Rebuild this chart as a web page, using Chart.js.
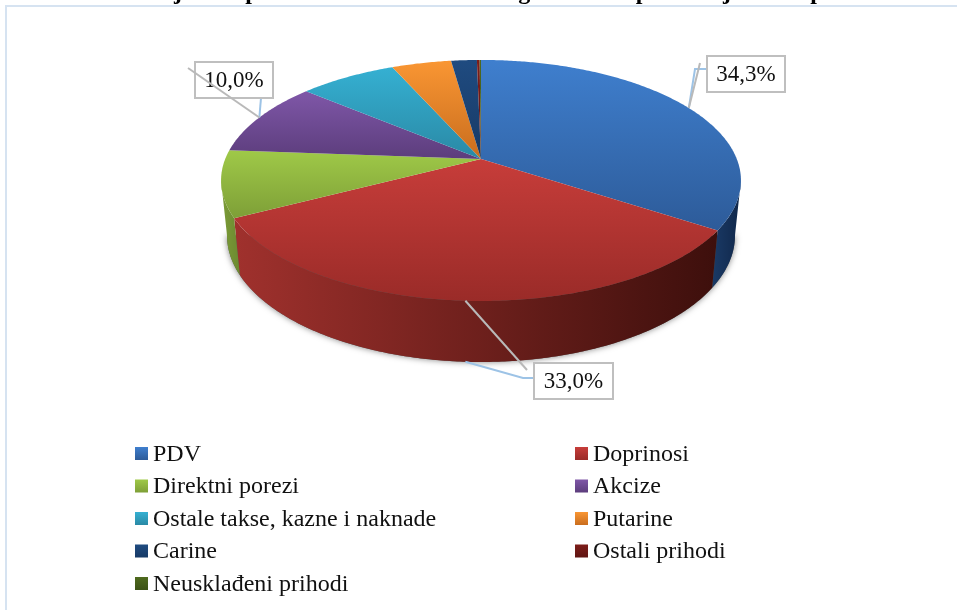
<!DOCTYPE html>
<html>
<head>
<meta charset="utf-8">
<title>Struktura javnih prihoda</title>
<script src="https://cdn.jsdelivr.net/npm/chart.js@4"></script>
<style>
  html, body { margin: 0; padding: 0; background: #fff; overflow: hidden; }
  canvas { display: block; }
</style>
</head>
<body>
<canvas id="chart" width="957" height="610"></canvas>
<script>
// the title is cut off by the page top, only its descenders show: wording is a guess
const chartTitle = 'Struktura javnih prihoda ostvarenih u toku godine kao prihoda jedinica prihoda';
const categories = ['PDV', 'Doprinosi', 'Direktni porezi', 'Akcize', 'Ostale takse, kazne i naknade', 'Putarine', 'Carine', 'Ostali prihodi', 'Neusklađeni prihodi'];
const shares = [34.3, 33.0, 8.9, 10.0, 7.2, 4.4, 1.9, 0.2, 0.1];
const labelledSlices = [0, 1, 3];

const topColors = ['#3f7fce', '#c73d3a', '#9fc948', '#7f57a8', '#35b0d2', '#f99633', '#1f4b80', '#7d1d1a', '#4f6a1e'];
const bottomColors = ['#2d5b99', '#9a2b28', '#7e9f37', '#5c3d7c', '#2a89a5', '#c96d1e', '#173a66', '#5f1512', '#3c5216'];
const wallLeft = ['#1a3a66', '#a0312d', '#7c9c38', '#5c3d7c', '#2a89a5', '#c96d1e', '#173a66', '#5f1512', '#3c5216'];
const wallRight = ['#10274a', '#3d0f0c', '#6c8a30', '#5c3d7c', '#2a89a5', '#c96d1e', '#173a66', '#5f1512', '#3c5216'];

// perspective pie: apex sits above the middle of the ellipse
const pie = { cx: 481, cy: 159, a: 255.8, b: 116.7, k: 0.178 };
const wall = { shrink: 0.977, stretch: 1.05, rimY: 301, baseY: 362 };
const sideAngle = Math.asin(pie.k); // where the rim is widest

const project = (angle) => {
  const u = Math.cos(angle);
  const v = Math.sin(angle);
  const w = 1 - pie.k * v;
  return { x: pie.cx + pie.a * u / w, y: pie.cy + pie.b * v / w };
};
const lower = (p) => ({
  x: pie.cx + (p.x - pie.cx) * wall.shrink,
  y: wall.baseY + (p.y - wall.rimY) * wall.stretch,
});
const sample = (from, to) => {
  const steps = Math.max(2, Math.ceil((to - from) / 0.01));
  const pts = [];
  for (let i = 0; i <= steps; i++) pts.push(project(from + (to - from) * i / steps));
  return pts;
};
const trace = (ctx, pts) => pts.forEach((p) => ctx.lineTo(p.x, p.y));

const pie3d = {
  id: 'pie3d',
  beforeDraw(chart) {
    const ctx = chart.ctx;
    ctx.save();
    ctx.fillStyle = '#fff';
    ctx.fillRect(0, 0, chart.width, chart.height);
    ctx.strokeStyle = '#d6e3f1';
    ctx.lineWidth = 2;
    ctx.strokeRect(6, 6, chart.width + 20, chart.height + 20);
    ctx.restore();
  },
  beforeDatasetDraw(chart) {
    const ctx = chart.ctx;
    const arcs = chart.getDatasetMeta(0).data;
    ctx.save();

    // soft shadow under the near edge of the body
    const near = sample(sideAngle, Math.PI - sideAngle).map(lower);
    ctx.save();
    ctx.shadowColor = 'rgba(0,0,0,0.5)';
    ctx.shadowBlur = 6;
    ctx.fillStyle = '#555';
    ctx.beginPath();
    ctx.moveTo(near[0].x, near[0].y);
    trace(ctx, near);
    ctx.closePath();
    ctx.fill();
    ctx.restore();

    // side walls, near half only
    arcs.forEach((arc, i) => {
      const from = Math.max(arc.startAngle, sideAngle);
      const to = Math.min(arc.endAngle, Math.PI - sideAngle);
      if (to <= from) return;
      const top = sample(from, to);
      const base = top.map(lower);
      const x0 = Math.min(...base.map((p) => p.x), ...top.map((p) => p.x));
      const x1 = Math.max(...base.map((p) => p.x), ...top.map((p) => p.x));
      const g = ctx.createLinearGradient(x0, 0, x1, 0);
      g.addColorStop(0, wallLeft[i]);
      g.addColorStop(1, wallRight[i]);
      ctx.fillStyle = g;
      ctx.beginPath();
      ctx.moveTo(top[0].x, top[0].y);
      trace(ctx, top);
      trace(ctx, base.reverse());
      ctx.closePath();
      ctx.fill();
    });

    // top faces
    arcs.forEach((arc, i) => {
      const pts = sample(arc.startAngle, arc.endAngle);
      const ys = pts.map((p) => p.y).concat(pie.cy);
      const g = ctx.createLinearGradient(0, Math.min(...ys), 0, Math.max(...ys));
      g.addColorStop(0, topColors[i]);
      g.addColorStop(1, bottomColors[i]);
      ctx.fillStyle = g;
      ctx.beginPath();
      ctx.moveTo(pie.cx, pie.cy);
      trace(ctx, pts);
      ctx.closePath();
      ctx.fill();
    });
    ctx.restore();
    return false; // default flat arcs are replaced by the above
  },
  afterDraw(chart) {
    const ctx = chart.ctx;
    const arcs = chart.getDatasetMeta(0).data;
    const boxes = chart.options.plugins.pie3d.boxes;
    ctx.save();

    // data labels with their leader lines
    labelledSlices.forEach((idx, n) => {
      const box = boxes[n];
      const arc = arcs[idx];
      const anchor = project((arc.startAngle + arc.endAngle) / 2);
      const start = box.useBase ? { x: anchor.x, y: anchor.y + 61 } : anchor;

      ctx.strokeStyle = '#9dc3e6';
      ctx.lineWidth = 2;
      ctx.beginPath();
      ctx.moveTo(start.x, start.y);
      box.blue.forEach((p) => ctx.lineTo(p[0], p[1]));
      ctx.stroke();

      ctx.fillStyle = '#fff';
      ctx.fillRect(box.x, box.y, box.w, box.h);
      ctx.strokeStyle = '#bfbfbf';
      ctx.lineWidth = 2;
      ctx.strokeRect(box.x, box.y, box.w, box.h);

      ctx.fillStyle = '#111';
      ctx.font = '23px "Liberation Serif"';
      ctx.textAlign = 'center';
      ctx.textBaseline = 'middle';
      ctx.fillText(shares[idx].toFixed(1).replace('.', ',') + '%', box.x + box.w / 2, box.y + box.h / 2 + 1);

      ctx.strokeStyle = '#b9b9b9';
      ctx.lineWidth = 2;
      ctx.beginPath();
      ctx.moveTo(anchor.x, anchor.y);
      ctx.lineTo(box.gray[0], box.gray[1]);
      ctx.stroke();
    });

    // legend, two columns filled row by row
    const lg = chart.options.plugins.pie3d.legend;
    ctx.font = lg.font;
    ctx.textAlign = 'left';
    ctx.textBaseline = 'middle';
    categories.forEach((name, i) => {
      const col = i % 2;
      const row = Math.floor(i / 2);
      const sx = lg.swatchX[col];
      const sy = lg.top + row * lg.rowGap;
      const g = ctx.createLinearGradient(0, sy, 0, sy + lg.size);
      g.addColorStop(0, topColors[i]);
      g.addColorStop(1, bottomColors[i]);
      ctx.fillStyle = g;
      ctx.fillRect(sx, sy, lg.size, lg.size);
      ctx.fillStyle = '#111';
      ctx.fillText(name, lg.textX[col], sy + lg.size / 2 + 1);
    });
    ctx.restore();
  },
};

new Chart(document.getElementById('chart'), {
  type: 'pie',
  data: {
    labels: categories,
    datasets: [{ data: shares, backgroundColor: topColors, borderWidth: 0 }],
  },
  plugins: [pie3d],
  options: {
    responsive: false,
    animation: false,
    layout: { padding: 0 },
    plugins: {
      legend: { display: false },
      tooltip: { enabled: false },
      title: {
        display: true,
        text: chartTitle,
        color: '#000',
        font: { family: '"Liberation Serif"', size: 24, weight: 'bold' },
        padding: { top: -22, bottom: 0 },
      },
      pie3d: {
        boxes: [
          { x: 707, y: 56, w: 78, h: 36, gray: [700, 63], blue: [[695, 69], [707, 69]] },
          { x: 534, y: 363, w: 79, h: 36, gray: [527, 370], useBase: true, blue: [[523, 378], [534, 378]] },
          { x: 195, y: 62, w: 78, h: 36, gray: [188, 68], blue: [[261, 98]] },
        ],
        legend: {
          font: '24px "Liberation Serif"',
          swatchX: [135, 575],
          textX: [153, 593],
          top: 447,
          rowGap: 32.5,
          size: 13,
        },
      },
    },
  },
});
</script>
</body>
</html>
